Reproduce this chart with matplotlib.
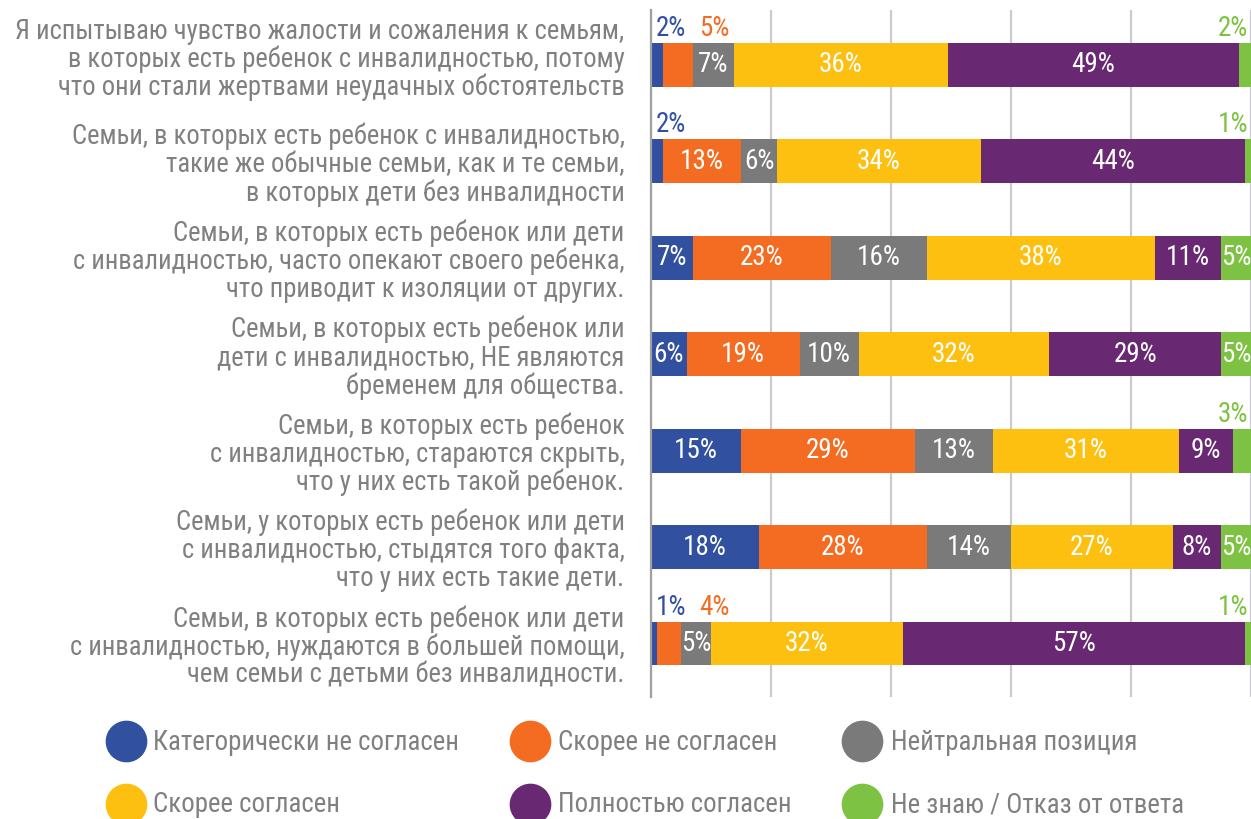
import numpy as np
import matplotlib
matplotlib.use("Agg")
import matplotlib.pyplot as plt
from matplotlib import font_manager
from matplotlib.lines import Line2D
from matplotlib.transforms import ScaledTranslation

# pick a narrow font if one is around, else Roboto
names = {f.name for f in font_manager.fontManager.ttflist}
font = "DejaVu Sans"
for cand in ["Roboto Condensed", "Liberation Sans Narrow", "Open Sans Condensed", "Roboto"]:
    if cand in names:
        font = cand
        break
plt.rcParams["font.family"] = [font, "DejaVu Sans"]

categories = [
    "Я испытываю чувство жалости и сожаления к семьям,\nв которых есть ребенок с инвалидностью, потому\nчто они стали жертвами неудачных обстоятельств",
    "Семьи, в которых есть ребенок с инвалидностью,\nтакие же обычные семьи, как и те семьи,\nв которых дети без инвалидности",
    "Семьи, в которых есть ребенок или дети\nс инвалидностью, часто опекают своего ребенка,\nчто приводит к изоляции от других.",
    "Семьи, в которых есть ребенок или\nдети с инвалидностью, НЕ являются\nбременем для общества.",
    "Семьи, в которых есть ребенок\nс инвалидностью, стараются скрыть,\nчто у них есть такой ребенок.",
    "Семьи, у которых есть ребенок или дети\nс инвалидностью, стыдятся того факта,\nчто у них есть такие дети.",
    "Семьи, в которых есть ребенок или дети\nс инвалидностью, нуждаются в большей помощи,\nчем семьи с детьми без инвалидности.",
]

series = ["Категорически не согласен", "Скорее не согласен", "Нейтральная позиция",
          "Скорее согласен", "Полностью согласен", "Не знаю / Отказ от ответа"]
colors = ["#3150A0", "#F36C21", "#7A7A7A", "#FDC010", "#682872", "#7DC242"]

strongly_disagree = [2, 2, 7, 6, 15, 18, 1]
disagree = [5, 13, 23, 19, 29, 28, 4]
neutral = [7, 6, 16, 10, 13, 14, 5]
agree = [36, 34, 38, 32, 31, 27, 32]
strongly_agree = [49, 44, 11, 29, 9, 8, 57]
dont_know = [2, 1, 5, 5, 3, 5, 1]

# labels printed above the bar instead of inside: (row, series index)
outside = [(0, 0), (0, 1), (0, 5), (1, 0), (1, 5), (4, 5), (6, 0), (6, 1), (6, 5)]

data = np.array([strongly_disagree, disagree, neutral, agree, strongly_agree, dont_know], dtype=float)
widths = data / data.sum(axis=0) * 100

fig = plt.figure(figsize=(12.51, 8.19), dpi=100)
ax = fig.add_axes([651 / 1251, 1 - 697 / 819, 600 / 1251, 687 / 819])

y = np.arange(len(categories))
bar_h = 0.456
lab_fs = 19.5
left = np.zeros(len(categories))
for k in range(len(series)):
    ax.barh(y, widths[k], left=left, height=bar_h, color=colors[k], zorder=3)
    for i in range(len(categories)):
        txt = f"{int(data[k, i])}%"
        if (i, k) in outside:
            top = i - bar_h / 2 - 0.15
            if k == 0:
                ax.text(0.8, top, txt, color=colors[k], ha="left", va="center", fontsize=lab_fs)
            elif k == 1:
                ax.text(8.0, top, txt, color=colors[k], ha="left", va="center", fontsize=lab_fs)
            else:
                ax.text(99.5, top, txt, color=colors[k], ha="right", va="center", fontsize=lab_fs)
        else:
            ax.text(left[i] + widths[k, i] / 2, i, txt, color="white", ha="center",
                    va="center", fontsize=lab_fs, zorder=4)
    left += widths[k]

ax.set_xlim(0, 100)
ax.set_ylim(6.555, -0.57)
ax.set_xticks(np.arange(0, 101, 20))
ax.xaxis.grid(True, color="#CBCBCF", linewidth=1.6, zorder=0)
ax.tick_params(axis="x", length=0, labelbottom=False)
ax.tick_params(axis="y", length=0, pad=19)
ax.set_yticks(y)
ax.set_yticklabels(categories, fontsize=19.2, color="#808080", linespacing=1.04)
# first label sits a little higher than its bar
first = ax.get_yticklabels()[0]
first.set_transform(first.get_transform() + ScaledTranslation(0, 9 / 100, fig.dpi_scale_trans))
for s in ["top", "right", "bottom"]:
    ax.spines[s].set_visible(False)
ax.spines["left"].set_color("#A0A0A0")
ax.spines["left"].set_linewidth(1.6)
ax.spines["left"].set_zorder(5)

# legend, two rows of three
circ_x = [126, 530, 862]
text_x = [153, 558, 891]
row_y = [741, 804]
for k, name in enumerate(series):
    r, c = divmod(k, 3)
    fig.add_artist(Line2D([circ_x[c] / 1251], [1 - row_y[r] / 819], marker="o", markersize=29,
                          color=colors[k], linestyle="none", transform=fig.transFigure))
    fig.text(text_x[c] / 1251, 1 - (row_y[r] + 1) / 819, name, fontsize=19.4, color="#808080",
             ha="left", va="center")

fig.savefig("out.png", dpi=100)
